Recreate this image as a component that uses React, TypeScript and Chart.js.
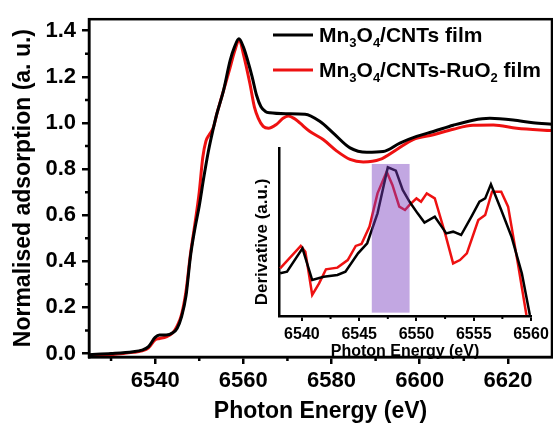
import React, { useEffect, useRef } from "react";
import { Chart, registerables } from "chart.js";

Chart.register(...registerables);

const FONT = "'Liberation Sans', Arial, Helvetica, sans-serif";

// ---------- main chart data ----------
const mainXTicks = [6540, 6560, 6580, 6600, 6620];
const mainXMinor = [6530, 6550, 6570, 6590, 6610];
const mainYTicks = [0, 0.2, 0.4, 0.6, 0.8, 1.0, 1.2, 1.4];
const mainYMinor = [0.1, 0.3, 0.5, 0.7, 0.9, 1.1, 1.3];

const blackE = [6525, 6530, 6535, 6537, 6538.5, 6540, 6541, 6542.5, 6544, 6545, 6546, 6547, 6548, 6549, 6550, 6551, 6552, 6553, 6554, 6555.5, 6557, 6558, 6559, 6560, 6561, 6562, 6563, 6564, 6565, 6566, 6570, 6574, 6577.4, 6580.4, 6584.2, 6588, 6591.7, 6595.5, 6599.3, 6603.1, 6607.6, 6612.1, 6615.9, 6621.2, 6625.7, 6630];
const blackV = [-0.005, 0.0, 0.008, 0.015, 0.03, 0.07, 0.08, 0.08, 0.09, 0.11, 0.16, 0.25, 0.42, 0.54, 0.64, 0.76, 0.87, 0.96, 1.04, 1.14, 1.27, 1.33, 1.365, 1.33, 1.27, 1.2, 1.12, 1.07, 1.05, 1.044, 1.04, 1.038, 1.006, 0.956, 0.892, 0.873, 0.876, 0.913, 0.942, 0.963, 0.99, 1.012, 1.02, 1.013, 1.001, 0.994];

const redE = [6525, 6530, 6535, 6537, 6538.5, 6540, 6541, 6542.5, 6544, 6545, 6546, 6547, 6548, 6549, 6550, 6550.8, 6551.5, 6552.3, 6553.2, 6554, 6555.5, 6557, 6558, 6559.1, 6560, 6561.5, 6562.5, 6563.4, 6564.5, 6565.7, 6567.6, 6569, 6570.2, 6571.5, 6572.8, 6575.1, 6578.1, 6581.2, 6584.2, 6587.2, 6591, 6594.8, 6598.5, 6603.1, 6607.6, 6612.1, 6616.7, 6622, 6630];
const redV = [-0.01, -0.005, 0.005, 0.012, 0.025, 0.06, 0.065, 0.072, 0.09, 0.12, 0.17, 0.27, 0.43, 0.56, 0.7, 0.85, 0.92, 0.95, 0.98, 1.04, 1.14, 1.24, 1.31, 1.36, 1.3, 1.17, 1.07, 1.02, 0.985, 0.977, 0.995, 1.02, 1.03, 1.02, 1.0, 0.963, 0.928, 0.878, 0.842, 0.831, 0.842, 0.885, 0.928, 0.949, 0.973, 0.99, 0.991, 0.977, 0.967];

const legendLabels = [
  [{ t: "Mn" }, { t: "3", sub: true }, { t: "O" }, { t: "4", sub: true }, { t: "/CNTs film" }],
  [{ t: "Mn" }, { t: "3", sub: true }, { t: "O" }, { t: "4", sub: true }, { t: "/CNTs-RuO" }, { t: "2", sub: true }, { t: " film" }],
];
const legendColors = ["#000000", "#ee1111"];

// ---------- inset data ----------
const insetXTicks = [6540, 6545, 6550, 6555, 6560];
const insetXMinor = [6542.5, 6547.5, 6552.5, 6557.5];
const insetYTitle = "Derivative (a.u.)";

const insetBlackE = [6538.1, 6538.7, 6540.05, 6540.9, 6541.9, 6543.1, 6543.8, 6544.9, 6545.7, 6546.6, 6547.5, 6548.2, 6548.8, 6549.4, 6550.1, 6550.7, 6551.6, 6552.2, 6552.6, 6553.2, 6553.9, 6554.8, 6555.5, 6556.0, 6556.5, 6557.4, 6558.3, 6559.2, 6559.9];
const insetBlackV = [0.254, 0.264, 0.403, 0.214, 0.234, 0.244, 0.264, 0.373, 0.433, 0.611, 0.885, 0.865, 0.75, 0.68, 0.611, 0.556, 0.591, 0.532, 0.492, 0.502, 0.482, 0.591, 0.68, 0.70, 0.784, 0.631, 0.472, 0.254, 0.006];

const insetRedE = [6538.1, 6539.9, 6540.3, 6540.9, 6541.5, 6542.1, 6543.1, 6544.0, 6544.7, 6545.2, 6545.9, 6546.6, 6547.4, 6547.9, 6548.5, 6549.0, 6549.4, 6550.0, 6550.4, 6550.9, 6551.6, 6551.9, 6552.5, 6553.2, 6553.8, 6554.4, 6555.4, 6556.0, 6556.6, 6557.4, 6558.0, 6558.9, 6559.6];
const insetRedV = [0.284, 0.417, 0.383, 0.125, 0.194, 0.278, 0.288, 0.333, 0.417, 0.429, 0.532, 0.73, 0.859, 0.78, 0.651, 0.631, 0.661, 0.70, 0.68, 0.73, 0.70, 0.631, 0.492, 0.313, 0.333, 0.373, 0.571, 0.601, 0.74, 0.74, 0.651, 0.294, 0.006];

const highlightE = [6546.1, 6549.4];
const highlightV = [0.02, 0.905];

const toPts = (xs: number[], ys: number[]) => xs.map((x, i) => ({ x, y: ys[i] }));

function minorTicksPlugin(xMinor: number[], yMinor: number[], len: number, width: number) {
  return {
    id: "minorTicks",
    afterDraw(chart: any) {
      const ctx = chart.ctx;
      const area = chart.chartArea;
      const xs = chart.scales.x;
      const ys = chart.scales.y;
      ctx.save();
      ctx.strokeStyle = "#000";
      ctx.lineWidth = width;
      ctx.beginPath();
      xMinor.forEach((v) => {
        const px = xs.getPixelForValue(v);
        ctx.moveTo(px, area.bottom);
        ctx.lineTo(px, area.bottom + len);
      });
      yMinor.forEach((v) => {
        const py = ys.getPixelForValue(v);
        ctx.moveTo(area.left, py);
        ctx.lineTo(area.left - len, py);
      });
      ctx.stroke();
      ctx.restore();
    },
  };
}

const framePlugin = {
  id: "frame",
  afterDraw(chart: any) {
    const ctx = chart.ctx;
    const a = chart.chartArea;
    ctx.save();
    ctx.strokeStyle = "#000";
    ctx.lineWidth = 2.5;
    ctx.strokeRect(a.left, a.top, a.right - a.left, a.bottom - a.top);
    ctx.restore();
  },
};

const legendPlugin = {
  id: "customLegend",
  afterDraw(chart: any) {
    const ctx = chart.ctx;
    ctx.save();
    const lineX0 = 273, lineX1 = 313, textX = 319;
    const rows = [35, 70];
    legendLabels.forEach((parts, i) => {
      const cy = rows[i];
      ctx.strokeStyle = legendColors[i];
      ctx.lineWidth = 3;
      ctx.beginPath();
      ctx.moveTo(lineX0, cy);
      ctx.lineTo(lineX1, cy);
      ctx.stroke();
      let x = textX;
      const base = cy + 7;
      ctx.fillStyle = "#000";
      ctx.textBaseline = "alphabetic";
      ctx.textAlign = "left";
      parts.forEach((p: any) => {
        ctx.font = p.sub ? `bold 13px ${FONT}` : `bold 21px ${FONT}`;
        ctx.fillText(p.t, x, p.sub ? base + 5 : base);
        x += ctx.measureText(p.t).width;
      });
    });
    ctx.restore();
  },
};

const highlightPlugin = {
  id: "highlight",
  afterDatasetsDraw(chart: any) {
    const ctx = chart.ctx;
    const xs = chart.scales.x;
    const ys = chart.scales.y;
    const x0 = xs.getPixelForValue(highlightE[0]);
    const x1 = xs.getPixelForValue(highlightE[1]);
    const y0 = ys.getPixelForValue(highlightV[1]);
    const y1 = ys.getPixelForValue(highlightV[0]);
    ctx.save();
    ctx.fillStyle = "rgba(120, 60, 190, 0.45)";
    ctx.fillRect(x0, y0, x1 - x0, y1 - y0);
    ctx.restore();
  },
};

const insetYTitlePlugin = {
  id: "insetYTitle",
  afterDraw(chart: any) {
    const ctx = chart.ctx;
    const a = chart.chartArea;
    ctx.save();
    ctx.translate(a.left - 17, (a.top + a.bottom) / 2 + 10);
    ctx.rotate(-Math.PI / 2);
    ctx.font = `bold 17px ${FONT}`;
    ctx.fillStyle = "#000";
    ctx.textAlign = "center";
    ctx.textBaseline = "middle";
    ctx.fillText(insetYTitle, 0, 0);
    ctx.restore();
  },
};

export default function App() {
  const mainRef = useRef<HTMLCanvasElement | null>(null);
  const insetRef = useRef<HTMLCanvasElement | null>(null);

  useEffect(() => {
    Chart.defaults.font.family = FONT;
    Chart.defaults.color = "#000";

    const main = new Chart(mainRef.current as HTMLCanvasElement, {
      type: "line",
      data: {
        datasets: [
          {
            data: toPts(blackE, blackV),
            borderColor: "#000000",
            borderWidth: 3,
            pointRadius: 0,
            cubicInterpolationMode: "monotone",
          },
          {
            data: toPts(redE, redV),
            borderColor: "#ee1111",
            borderWidth: 3,
            pointRadius: 0,
            cubicInterpolationMode: "monotone",
          },
        ],
      },
      options: {
        responsive: false,
        animation: false,
        layout: { padding: { top: 14, right: 1, left: 0, bottom: 0 } },
        plugins: { legend: { display: false }, tooltip: { enabled: false } },
        scales: {
          x: {
            type: "linear",
            min: 6525,
            max: 6630,
            afterFit: (s: any) => { s.height = 68; },
            afterBuildTicks: (s: any) => { s.ticks = mainXTicks.map((v) => ({ value: v })); },
            ticks: {
              font: { size: 22, weight: "bold" },
              color: "#000",
              padding: 4,
              maxRotation: 0,
              callback: (v: any) => String(v),
            },
            grid: { display: true, drawOnChartArea: false, drawTicks: true, tickLength: 7, color: "#000", lineWidth: 2.5 },
            border: { display: true, color: "#000", width: 2.5 },
            title: {
              display: true,
              text: "Photon Energy (eV)",
              font: { size: 23, weight: "bold" },
              color: "#000",
              padding: { top: 0, bottom: 0 },
            },
          },
          y: {
            type: "linear",
            min: -0.015,
            max: 1.45,
            afterFit: (s: any) => { s.width = 89; },
            afterBuildTicks: (s: any) => { s.ticks = mainYTicks.map((v) => ({ value: v })); },
            ticks: {
              font: { size: 22, weight: "bold" },
              color: "#000",
              padding: 6,
              callback: (v: any) => Number(v).toFixed(1),
            },
            grid: { display: true, drawOnChartArea: false, drawTicks: true, tickLength: 7, color: "#000", lineWidth: 2.5 },
            border: { display: true, color: "#000", width: 2.5 },
            title: {
              display: true,
              text: "Normalised adsorption (a. u.)",
              font: { size: 23, weight: "bold" },
              color: "#000",
              padding: { top: 10, bottom: 0 },
            },
          },
        },
      },
      plugins: [minorTicksPlugin(mainXMinor, mainYMinor, 4, 2.5), framePlugin, legendPlugin],
    } as any);

    const inset = new Chart(insetRef.current as HTMLCanvasElement, {
      type: "line",
      data: {
        datasets: [
          {
            data: toPts(insetBlackE, insetBlackV),
            borderColor: "#000000",
            borderWidth: 2.5,
            pointRadius: 0,
            tension: 0,
          },
          {
            data: toPts(insetRedE, insetRedV),
            borderColor: "#ee1111",
            borderWidth: 2.5,
            pointRadius: 0,
            tension: 0,
          },
        ],
      },
      options: {
        responsive: false,
        animation: false,
        layout: { padding: { top: 8, right: 22, left: 0, bottom: 0 } },
        plugins: { legend: { display: false }, tooltip: { enabled: false } },
        scales: {
          x: {
            type: "linear",
            min: 6538,
            max: 6560,
            afterFit: (s: any) => { s.height = 46; },
            afterBuildTicks: (s: any) => { s.ticks = insetXTicks.map((v) => ({ value: v })); },
            ticks: {
              font: { size: 16, weight: "bold" },
              color: "#000",
              padding: 4,
              maxRotation: 0,
              callback: (v: any) => String(v),
            },
            grid: { display: true, drawOnChartArea: false, drawTicks: true, tickLength: 5, color: "#000", lineWidth: 2 },
            border: { display: true, color: "#000", width: 2.5 },
            title: {
              display: true,
              text: "Photon Energy (eV)",
              font: { size: 16, weight: "bold" },
              color: "#000",
              padding: { top: 0, bottom: 1 },
            },
          },
          y: {
            type: "linear",
            min: 0,
            max: 1,
            afterFit: (s: any) => { s.width = 34; },
            ticks: { display: false },
            grid: { display: false },
            border: { display: true, color: "#000", width: 2.5 },
            title: { display: false },
          },
        },
      },
      plugins: [minorTicksPlugin(insetXMinor, [], 3, 2), highlightPlugin, insetYTitlePlugin],
    } as any);

    return () => {
      main.destroy();
      inset.destroy();
    };
  }, []);

  return (
    <div style={{ position: "fixed", left: 0, top: 0, width: 553, height: 425, background: "#fff" }}>
      <canvas ref={mainRef} width={553} height={425} style={{ position: "absolute", left: 0, top: 0, width: 553, height: 425 }} />
      <canvas ref={insetRef} width={308} height={222} style={{ position: "absolute", left: 245, top: 140, width: 308, height: 222 }} />
    </div>
  );
}
